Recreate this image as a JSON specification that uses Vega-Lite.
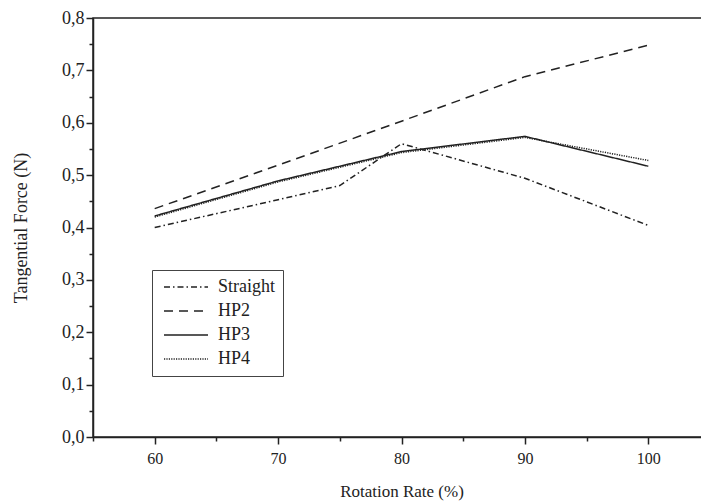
{
  "$schema": "https://vega.github.io/schema/vega-lite/v6.json",
  "width": 617,
  "height": 419,
  "padding": {"left": 12, "top": 9, "right": 0, "bottom": 5},
  "background": "white",
  "config": {
    "locale": {"number": {"decimal": ",", "thousands": ".", "grouping": [3], "currency": ["", ""]}},
    "font": "Liberation Serif",
    "view": {"stroke": "#222", "strokeWidth": 1.5}
  },
  "data": {
    "values": [
      {"rate": 60, "force": 0.400, "series": "Straight"},
      {"rate": 70, "force": 0.453, "series": "Straight"},
      {"rate": 75, "force": 0.480, "series": "Straight"},
      {"rate": 80, "force": 0.560, "series": "Straight"},
      {"rate": 90, "force": 0.494, "series": "Straight"},
      {"rate": 100, "force": 0.404, "series": "Straight"},
      {"rate": 60, "force": 0.436, "series": "HP2"},
      {"rate": 70, "force": 0.519, "series": "HP2"},
      {"rate": 80, "force": 0.603, "series": "HP2"},
      {"rate": 90, "force": 0.688, "series": "HP2"},
      {"rate": 100, "force": 0.748, "series": "HP2"},
      {"rate": 60, "force": 0.422, "series": "HP3"},
      {"rate": 70, "force": 0.489, "series": "HP3"},
      {"rate": 80, "force": 0.545, "series": "HP3"},
      {"rate": 90, "force": 0.574, "series": "HP3"},
      {"rate": 100, "force": 0.517, "series": "HP3"},
      {"rate": 60, "force": 0.420, "series": "HP4"},
      {"rate": 70, "force": 0.487, "series": "HP4"},
      {"rate": 80, "force": 0.543, "series": "HP4"},
      {"rate": 90, "force": 0.572, "series": "HP4"},
      {"rate": 100, "force": 0.528, "series": "HP4"}
    ]
  },
  "mark": {"type": "line", "color": "#222", "strokeWidth": 1.5},
  "encoding": {
    "x": {
      "field": "rate", "type": "quantitative",
      "scale": {"domain": [55, 105], "nice": false, "zero": false},
      "axis": {
        "title": "Rotation Rate (%)",
        "values": [55, 60, 65, 70, 75, 80, 85, 90, 95, 100, 105],
        "labelExpr": "datum.value % 10 === 0 && datum.value <= 100 ? datum.label : ''",
        "grid": false,
        "domainColor": "#222", "domainWidth": 1.5,
        "tickColor": "#222", "tickWidth": 1.5,
        "tickSize": {"condition": {"test": "datum.value % 10 === 0", "value": 7}, "value": 4},
        "labelFontSize": 16, "labelColor": "#222", "labelPadding": 6,
        "titleFontSize": 17, "titleFontWeight": "normal", "titleColor": "#222", "titlePadding": 17
      }
    },
    "y": {
      "field": "force", "type": "quantitative",
      "scale": {"domain": [0, 0.8], "nice": false},
      "axis": {
        "title": "Tangential Force (N)",
        "values": [0, 0.05, 0.1, 0.15, 0.2, 0.25, 0.3, 0.35, 0.4, 0.45, 0.5, 0.55, 0.6, 0.65, 0.7, 0.75, 0.8],
        "format": ".1f",
        "labelExpr": "round(datum.value * 100) % 10 === 0 ? datum.label : ''",
        "grid": false,
        "domainColor": "#222", "domainWidth": 1.5,
        "tickColor": "#222", "tickWidth": 1.5,
        "tickSize": {"condition": {"test": "round(datum.value * 100) % 10 === 0", "value": 7}, "value": 4},
        "labelFontSize": 18, "labelColor": "#222", "labelPadding": 2,
        "titleFontSize": 18, "titleFontWeight": "normal", "titleColor": "#222", "titlePadding": 31
      }
    },
    "strokeDash": {
      "field": "series", "type": "nominal",
      "scale": {
        "domain": ["Straight", "HP2", "HP3", "HP4"],
        "range": [[6, 3, 1.5, 3], [9, 6], [1, 0], [1.2, 1.2]]
      },
      "legend": {
        "title": null,
        "orient": "none",
        "legendX": 59,
        "legendY": 252,
        "padding": 8,
        "strokeColor": "#444",
        "fillColor": "white",
        "symbolType": "M-1,0H7.8",
        "symbolSize": 100,
        "symbolStrokeColor": "#222",
        "symbolStrokeWidth": 1.5,
        "labelFontSize": 18,
        "labelColor": "#222",
        "labelOffset": 40,
        "rowPadding": 6
      }
    },
    "strokeWidth": {
      "field": "series", "type": "nominal",
      "scale": {"domain": ["Straight", "HP2", "HP3", "HP4"], "range": [1.4, 1.6, 2, 1.4]},
      "legend": null
    }
  }
}
